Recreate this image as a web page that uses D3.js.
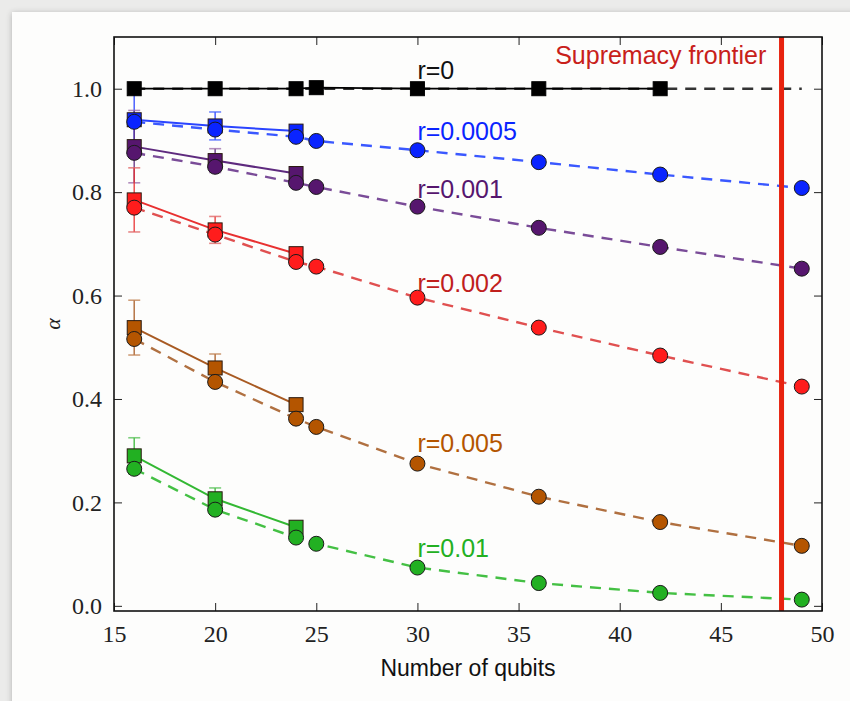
<!DOCTYPE html>
<html>
<head>
<meta charset="utf-8">
<script src="https://cdn.jsdelivr.net/npm/d3@7"></script>
<style>
  html, body { margin: 0; padding: 0; background: #ebebea; }
  #chart { width: 850px; height: 701px; overflow: hidden; }
</style>
</head>
<body>
<div id="chart"></div>
<script>
// ── Data ─────────────────────────────────────────────────────
const qubitsSim = [16, 20, 24, 25, 30, 36, 42, 49];
const qubitsExp = [16, 20, 24];
const qubitsR0  = [16, 20, 24, 25, 30, 36, 42];

const rNames  = ['r=0', 'r=0.0005', 'r=0.001', 'r=0.002', 'r=0.005', 'r=0.01'];
const labelY  = [1.037, 0.919, 0.807, 0.625, 0.315, 0.112];

// simulated (dashed, circles)
const simR0     = [1, 1, 1, 1, 1, 1, 1, 1];
const simR0005  = [0.936, 0.921, 0.907, 0.899, 0.881, 0.858, 0.834, 0.808];
const simR001   = [0.876, 0.849, 0.818, 0.810, 0.772, 0.731, 0.694, 0.652];
const simR002   = [0.770, 0.718, 0.665, 0.656, 0.596, 0.538, 0.484, 0.424];
const simR005   = [0.516, 0.433, 0.362, 0.346, 0.275, 0.211, 0.162, 0.116];
const simR01    = [0.265, 0.186, 0.132, 0.120, 0.074, 0.044, 0.025, 0.012];

// experiment-like (solid, squares, error bars)
const expR0     = [1, 1, 1, 1.002, 1, 1, 1];
const expR0005  = [0.940, 0.928, 0.918];
const expR001   = [0.888, 0.861, 0.836];
const expR002   = [0.785, 0.727, 0.681];
const expR005   = [0.538, 0.460, 0.389];
const expR01    = [0.290, 0.207, 0.152];

const errR0005  = [0.060, 0.027, 0.005];
const errR001   = [0.070, 0.023, 0.005];
const errR002   = [0.062, 0.026, 0.005];
const errR005   = [0.053, 0.027, 0.005];
const errR01    = [0.035, 0.021, 0.005];

const frontierQubits = 48;

const xTicks = [15, 20, 25, 30, 35, 40, 45, 50];
const yTicks = [0, 0.2, 0.4, 0.6, 0.8, 1.0];

const COLORS = {
  r0:    { mark: '#000000', line: '#000000', dash: '#333333', err: '#555555' },
  r0005: { mark: '#0a24ff', line: '#2a44ff', dash: '#3a58ff', err: '#4060ff' },
  r001:  { mark: '#56166e', line: '#5e2a7e', dash: '#7a4c98', err: '#9a6aa8' },
  r002:  { mark: '#ff1c1c', line: '#e83030', dash: '#e05050', err: '#e06060' },
  r005:  { mark: '#b45500', line: '#a85a22', dash: '#b07040', err: '#c08050' },
  r01:   { mark: '#22b022', line: '#33b833', dash: '#44c044', err: '#55c055' },
};

const series = [
  { key: 'r0005', name: rNames[1], ly: labelY[1], sim: simR0005, exp: expR0005, err: errR0005 },
  { key: 'r001',  name: rNames[2], ly: labelY[2], sim: simR001,  exp: expR001,  err: errR001 },
  { key: 'r002',  name: rNames[3], ly: labelY[3], sim: simR002,  exp: expR002,  err: errR002 },
  { key: 'r005',  name: rNames[4], ly: labelY[4], sim: simR005,  exp: expR005,  err: errR005 },
  { key: 'r01',   name: rNames[5], ly: labelY[5], sim: simR01,   exp: expR01,   err: errR01 },
];

// ── Layout ───────────────────────────────────────────────────
const width = 850, height = 701;
const svg = d3.select('#chart').append('svg')
  .attr('width', width).attr('height', height);

const defs = svg.append('defs');
const sh = defs.append('filter').attr('id', 'shadow')
  .attr('x', '-5%').attr('y', '-5%').attr('width', '110%').attr('height', '110%');
sh.append('feGaussianBlur').attr('in', 'SourceAlpha').attr('stdDeviation', 3);
sh.append('feOffset').attr('dx', 0).attr('dy', 1).attr('result', 'b');
sh.append('feComponentTransfer').append('feFuncA').attr('type', 'linear').attr('slope', 0.25);
const mg = sh.append('feMerge');
mg.append('feMergeNode');
mg.append('feMergeNode').attr('in', 'SourceGraphic');

svg.append('rect').attr('x', 0).attr('y', 0).attr('width', width).attr('height', height)
  .attr('fill', '#ebebea');
svg.append('rect').attr('x', 12).attr('y', 12).attr('width', 860).attr('height', 720)
  .attr('fill', '#fdfdfc').attr('filter', 'url(#shadow)');

const x = d3.scaleLinear().domain([15, 50]).range([114, 822]);
const y = d3.scaleLinear().domain([-0.01, 1.1]).range([611, 37]);

const plot = svg.append('g');

defs.append('clipPath').attr('id', 'clip').append('rect')
  .attr('x', 114).attr('y', 37).attr('width', 708).attr('height', 574);

const SERIF = '"Liberation Serif", "DejaVu Serif", serif';
const SANS  = '"Liberation Sans", Arial, Helvetica, sans-serif';

// ── Lines ────────────────────────────────────────────────────
const line = d3.line().x(d => x(d[0])).y(d => y(d[1]));
const lines = plot.append('g').attr('clip-path', 'url(#clip)');

// r=0 dashed + solid
lines.append('path').datum(qubitsSim.map((q, i) => [q, simR0[i]]))
  .attr('d', line).attr('fill', 'none')
  .attr('stroke', COLORS.r0.dash).attr('stroke-width', 2.4).attr('stroke-dasharray', '11 8');
lines.append('path').datum(qubitsR0.map((q, i) => [q, expR0[i]]))
  .attr('d', line).attr('fill', 'none')
  .attr('stroke', COLORS.r0.line).attr('stroke-width', 1.8);

series.forEach(s => {
  const c = COLORS[s.key];
  lines.append('path').datum(qubitsSim.map((q, i) => [q, s.sim[i]]))
    .attr('d', line).attr('fill', 'none')
    .attr('stroke', c.dash).attr('stroke-width', 2.4).attr('stroke-dasharray', '11 8');
  lines.append('path').datum(qubitsExp.map((q, i) => [q, s.exp[i]]))
    .attr('d', line).attr('fill', 'none')
    .attr('stroke', c.line).attr('stroke-width', 2);
});

// ── Error bars ───────────────────────────────────────────────
const errG = plot.append('g');
series.forEach(s => {
  const c = COLORS[s.key];
  qubitsExp.forEach((q, i) => {
    const lo = s.exp[i] - s.err[i], hi = s.exp[i] + s.err[i];
    errG.append('line')
      .attr('x1', x(q)).attr('x2', x(q)).attr('y1', y(lo)).attr('y2', y(hi))
      .attr('stroke', c.line).attr('stroke-width', 1.6).attr('opacity', 0.8);
    [lo, hi].forEach(v => {
      errG.append('line')
        .attr('x1', x(q) - 6).attr('x2', x(q) + 6).attr('y1', y(v)).attr('y2', y(v))
        .attr('stroke', c.err).attr('stroke-width', 1.6).attr('opacity', 0.75);
    });
  });
});

// ── Markers ──────────────────────────────────────────────────
const markG = plot.append('g');
const SQ = 14, R = 7.5;

// squares first, circles on top
qubitsR0.forEach((q, i) => {
  markG.append('rect')
    .attr('x', x(q) - SQ / 2).attr('y', y(expR0[i]) - SQ / 2)
    .attr('width', SQ).attr('height', SQ)
    .attr('fill', COLORS.r0.mark).attr('stroke', '#000').attr('stroke-width', 1);
});

series.forEach(s => {
  const c = COLORS[s.key];
  qubitsExp.forEach((q, i) => {
    markG.append('rect')
      .attr('x', x(q) - SQ / 2).attr('y', y(s.exp[i]) - SQ / 2)
      .attr('width', SQ).attr('height', SQ)
      .attr('fill', c.mark).attr('stroke', '#2a1a10').attr('stroke-width', 1);
  });
});

series.forEach(s => {
  const c = COLORS[s.key];
  qubitsSim.forEach((q, i) => {
    markG.append('circle')
      .attr('cx', x(q)).attr('cy', y(s.sim[i])).attr('r', R)
      .attr('fill', c.mark).attr('stroke', '#1a1a1a').attr('stroke-width', 1);
  });
});

// ── Series labels ────────────────────────────────────────────
const labG = plot.append('g');
labG.append('text')
  .attr('x', x(30)).attr('y', y(labelY[0]))
  .attr('dominant-baseline', 'central')
  .attr('font-family', SANS).attr('font-size', 25)
  .attr('fill', '#111').text(rNames[0]);
series.forEach(s => {
  labG.append('text')
    .attr('x', x(30)).attr('y', y(s.ly))
    .attr('dominant-baseline', 'central')
    .attr('font-family', SANS).attr('font-size', 25)
    .attr('fill', COLORS[s.key].mark === '#ff1c1c' ? '#c0201c' : COLORS[s.key].mark)
    .text(s.name);
});

// ── Supremacy frontier ──────────────────────────────────────
plot.append('line')
  .attr('x1', x(frontierQubits)).attr('x2', x(frontierQubits))
  .attr('y1', y(1.1)).attr('y2', y(-0.01))
  .attr('stroke', '#e8220e').attr('stroke-width', 5);
plot.append('text')
  .attr('x', x(47.25)).attr('y', y(1.066))
  .attr('text-anchor', 'end').attr('dominant-baseline', 'central')
  .attr('font-family', SANS).attr('font-size', 25)
  .attr('fill', '#c8201a').text('Supremacy frontier');

// ── Axes (ticks inward on all four sides) ───────────────────
const axG = svg.append('g');
const tickStyle = ax => {
  ax.select('.domain').remove();
  ax.selectAll('.tick line').attr('stroke', '#222').attr('stroke-width', 1);
};

axG.append('g').attr('transform', `translate(0,${y(-0.01)})`)
  .call(d3.axisBottom(x).tickValues(xTicks).tickSize(-8).tickPadding(14).tickFormat(d3.format('d')))
  .call(tickStyle)
  .call(ax => ax.selectAll('text').attr('font-family', SERIF).attr('font-size', 24).attr('fill', '#222'));

axG.append('g').attr('transform', `translate(0,${y(1.1)})`)
  .call(d3.axisTop(x).tickValues(xTicks).tickSize(-8).tickFormat(''))
  .call(tickStyle);

axG.append('g').attr('transform', `translate(${x(15)},0)`)
  .call(d3.axisLeft(y).tickValues(yTicks).tickSize(-8).tickPadding(12).tickFormat(d3.format('.1f')))
  .call(tickStyle)
  .call(ax => ax.selectAll('text').attr('font-family', SERIF).attr('font-size', 24).attr('fill', '#222'));

axG.append('g').attr('transform', `translate(${x(50)},0)`)
  .call(d3.axisRight(y).tickValues(yTicks).tickSize(-8).tickFormat(''))
  .call(tickStyle);

// frame
axG.append('rect')
  .attr('x', x(15)).attr('y', y(1.1))
  .attr('width', x(50) - x(15)).attr('height', y(-0.01) - y(1.1))
  .attr('fill', 'none').attr('stroke', '#111').attr('stroke-width', 1.6);

// axis labels
svg.append('text')
  .attr('x', (x(15) + x(50)) / 2).attr('y', 668)
  .attr('text-anchor', 'middle').attr('dominant-baseline', 'central')
  .attr('font-family', SANS).attr('font-size', 23).attr('fill', '#111')
  .text('Number of qubits');

svg.append('text')
  .attr('transform', `translate(52,${(y(1.1) + y(-0.01)) / 2}) rotate(-90)`)
  .attr('text-anchor', 'middle').attr('dominant-baseline', 'central')
  .attr('font-family', SERIF).attr('font-style', 'italic').attr('font-size', 22).attr('fill', '#222')
  .text('α');
</script>
</body>
</html>
